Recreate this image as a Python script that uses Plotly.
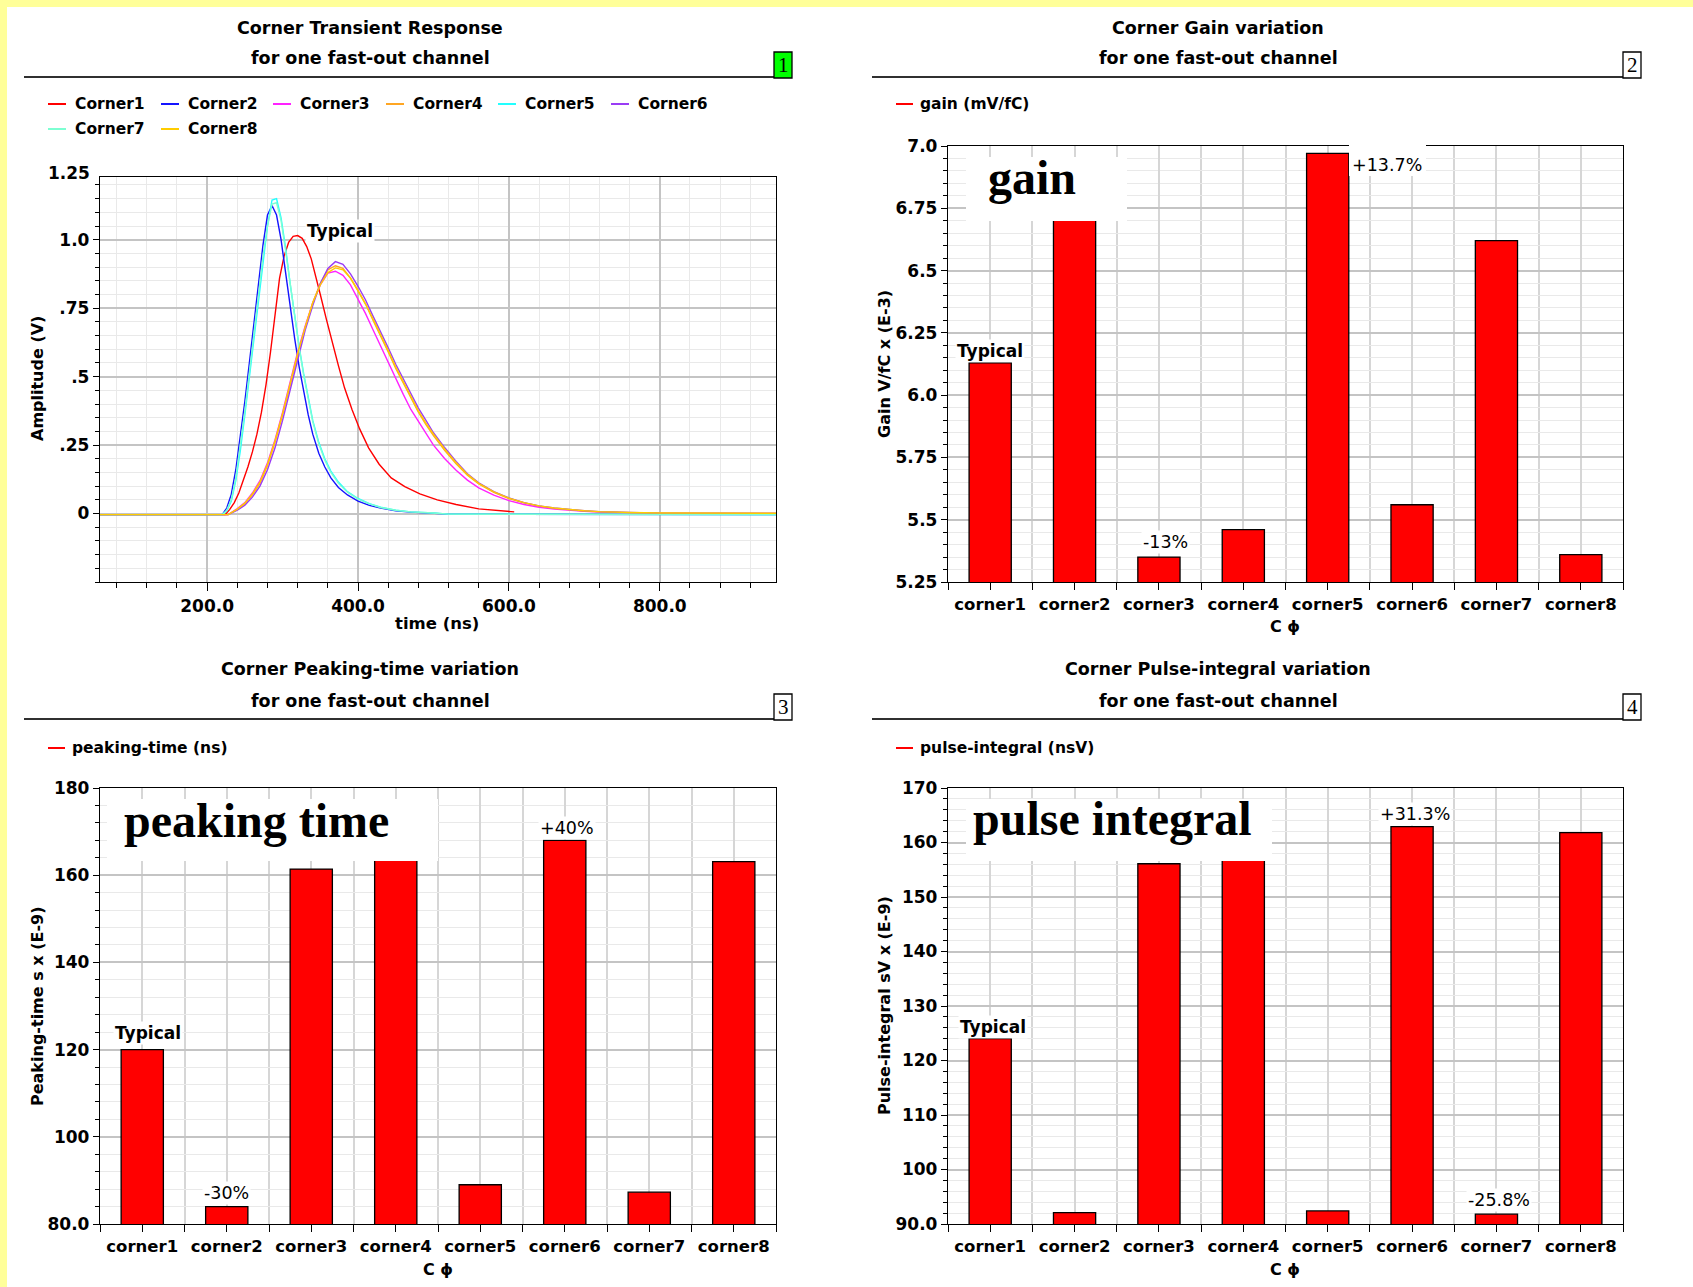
import plotly.graph_objects as go

W, H = 1693, 1287
SANS = "DejaVu Sans"
SERIF = "Liberation Serif"

# ---------------- transient response (time in ns, amplitude in V) ----------------
t_typ = [58, 224, 230, 236, 242, 248, 254, 260, 266, 272, 278, 284, 290, 296, 302, 308,
         314, 320, 326, 332, 338, 344, 350, 358, 366, 374, 382, 392, 402, 414, 428, 444,
         462, 482, 505, 530, 560, 590, 607]
corner1_v = [-0.004, -0.004, 0.015, 0.04, 0.075, 0.12, 0.17, 0.225, 0.29, 0.37, 0.47, 0.59,
             0.73, 0.86, 0.94, 0.99, 1.012, 1.015, 1.005, 0.975, 0.93, 0.87, 0.8, 0.71, 0.62,
             0.54, 0.46, 0.38, 0.31, 0.24, 0.18, 0.13, 0.098, 0.072, 0.05, 0.033, 0.017,
             0.009, 0.006]

t_fast = [58, 220, 226, 232, 238, 244, 250, 256, 262, 268, 274, 280, 286, 292, 298, 304,
          310, 316, 322, 328, 334, 340, 348, 356, 364, 374, 386, 400, 415, 430, 450, 470,
          500, 520, 954]
corner2_v = [-0.004, -0.004, 0.02, 0.07, 0.16, 0.28, 0.41, 0.55, 0.70, 0.85, 0.98, 1.09,
             1.125, 1.09, 1.00, 0.88, 0.75, 0.64, 0.535, 0.44, 0.36, 0.29, 0.22, 0.17, 0.13,
             0.095, 0.068, 0.045, 0.03, 0.02, 0.01, 0.005, 0.001, -0.002, -0.004]
corner5_v = [-0.004, -0.004, 0.01, 0.045, 0.12, 0.23, 0.36, 0.5, 0.645, 0.79, 0.93, 1.05,
             1.145, 1.15, 1.08, 0.97, 0.84, 0.72, 0.61, 0.51, 0.42, 0.34, 0.26, 0.2, 0.155,
             0.115, 0.08, 0.055, 0.036, 0.023, 0.012, 0.006, 0.002, -0.002, -0.004]
corner7_v = [-0.004, -0.004, 0.012, 0.05, 0.13, 0.245, 0.375, 0.515, 0.66, 0.8, 0.94, 1.05,
             1.13, 1.135, 1.07, 0.96, 0.835, 0.715, 0.605, 0.505, 0.415, 0.335, 0.255, 0.195,
             0.15, 0.11, 0.078, 0.053, 0.035, 0.022, 0.012, 0.006, 0.002, -0.002, -0.004]

t_slow = [58, 228, 240, 250, 260, 270, 280, 290, 300, 310, 320, 330, 340, 350, 360, 370,
          380, 390, 400, 410, 420, 430, 440, 450, 460, 470, 480, 490, 500, 515, 530, 545,
          560, 580, 600, 620, 640, 660, 680, 700, 720, 740, 760, 800, 954]
corner3_v = [-0.004, -0.004, 0.018, 0.04, 0.075, 0.12, 0.185, 0.27, 0.37, 0.48, 0.59, 0.685,
             0.77, 0.835, 0.878, 0.885, 0.87, 0.835, 0.785, 0.73, 0.67, 0.61, 0.55, 0.49,
             0.435, 0.38, 0.335, 0.29, 0.25, 0.2, 0.158, 0.122, 0.094, 0.067, 0.047, 0.033,
             0.023, 0.016, 0.011, 0.008, 0.005, 0.003, 0.002, 0.001, 0.0]
corner4_v = [-0.004, -0.004, 0.015, 0.035, 0.068, 0.11, 0.175, 0.26, 0.36, 0.47, 0.58, 0.68,
             0.77, 0.84, 0.89, 0.905, 0.895, 0.86, 0.815, 0.765, 0.705, 0.65, 0.59, 0.53,
             0.475, 0.42, 0.37, 0.325, 0.285, 0.23, 0.182, 0.14, 0.108, 0.077, 0.055, 0.039,
             0.027, 0.019, 0.013, 0.009, 0.006, 0.004, 0.003, 0.001, 0.0]
corner6_v = [-0.004, -0.004, 0.012, 0.03, 0.06, 0.10, 0.16, 0.24, 0.34, 0.45, 0.56, 0.67,
             0.76, 0.84, 0.895, 0.92, 0.91, 0.875, 0.83, 0.78, 0.72, 0.665, 0.605, 0.545,
             0.49, 0.435, 0.385, 0.34, 0.295, 0.24, 0.19, 0.145, 0.112, 0.08, 0.057, 0.04,
             0.028, 0.02, 0.014, 0.01, 0.007, 0.005, 0.003, 0.001, 0.0]
corner8_v = [-0.004, -0.004, 0.016, 0.038, 0.072, 0.115, 0.18, 0.265, 0.365, 0.475, 0.585,
             0.68, 0.77, 0.835, 0.88, 0.897, 0.89, 0.86, 0.815, 0.765, 0.71, 0.655, 0.595,
             0.535, 0.48, 0.425, 0.375, 0.33, 0.29, 0.235, 0.186, 0.143, 0.11, 0.079, 0.056,
             0.04, 0.028, 0.02, 0.014, 0.01, 0.007, 0.005, 0.004, 0.002, 0.001]

curve_names = ["Corner1", "Corner2", "Corner3", "Corner4", "Corner5", "Corner6", "Corner7", "Corner8"]
curve_colors = ["#ff0000", "#1414ff", "#ff22ff", "#ffa623", "#22ffff", "#9a3cf5", "#7dffd2", "#ffcc00"]
curve_t = [t_typ, t_fast, t_slow, t_slow, t_fast, t_slow, t_fast, t_slow]
curve_v = [corner1_v, corner2_v, corner3_v, corner4_v, corner5_v, corner6_v, corner7_v, corner8_v]

time_ticks = [200, 400, 600, 800]
time_ticklabels = ["200.0", "400.0", "600.0", "800.0"]
amp_ticks = [0, 0.25, 0.5, 0.75, 1.0]
amp_ticklabels = ["0", ".25", ".5", ".75", "1.0"]

# ---------------- per-corner summary values ----------------
corners = ["corner1", "corner2", "corner3", "corner4", "corner5", "corner6", "corner7", "corner8"]
gain = [6.13, 6.85, 5.35, 5.46, 6.97, 5.56, 6.62, 5.36]            # mV/fC
peaking = [120.0, 84.0, 161.4, 165.0, 89.0, 168.0, 87.3, 163.1]     # ns
pulse_integral = [124.0, 92.1, 156.1, 158.0, 92.4, 162.9, 91.8, 161.8]  # ns*V

gain_ticks = [5.25, 5.5, 5.75, 6.0, 6.25, 6.5, 6.75, 7.0]
gain_ticklabels = ["5.25", "5.5", "5.75", "6.0", "6.25", "6.5", "6.75", "7.0"]
peak_ticks = [80, 100, 120, 140, 160, 180]
peak_ticklabels = ["80.0", "100", "120", "140", "160", "180"]
pulse_ticks = [90, 100, 110, 120, 130, 140, 150, 160, 170]
pulse_ticklabels = ["90.0", "100", "110", "120", "130", "140", "150", "160", "170"]


def px(x):
    return x / W


def py(y):
    return 1 - y / H


MAJOR = "#c4c4c4"
MINOR = "#e9e9e9"
VGRID = "#d6d6d6"
TICKFONT = dict(family=SANS, size=17, color="black", weight="bold")
XCATFONT = dict(family=SANS, size=16.5, color="black", weight="bold")

fig = go.Figure()

for name, color, t, v in zip(curve_names, curve_colors, curve_t, curve_v):
    fig.add_trace(go.Scatter(x=t, y=v, mode="lines", name=name,
                             line=dict(color=color, width=1.4),
                             xaxis="x", yaxis="y", showlegend=False, hoverinfo="skip"))

pos = list(range(1, len(corners) + 1))
for vals, xa, ya in [(gain, "x2", "y2"), (peaking, "x3", "y3"), (pulse_integral, "x4", "y4")]:
    fig.add_trace(go.Bar(x=pos, y=vals, width=0.5,
                         marker=dict(color="#ff0000", line=dict(color="black", width=1.3)),
                         xaxis=xa, yaxis=ya, showlegend=False, hoverinfo="skip"))


def frame(**kw):
    base = dict(showline=True, mirror=True, linecolor="black", linewidth=1.3,
                ticks="outside", tickcolor="black", tickwidth=1.2, zeroline=False,
                showgrid=True, fixedrange=True, automargin=False)
    base.update(kw)
    return base


def bar_x(dom, anchor):
    return frame(domain=dom, anchor=anchor, range=[0.5, len(corners) + 0.5],
                 tickmode="array", tickvals=pos, ticktext=corners, ticklen=7,
                 gridcolor=VGRID, gridwidth=1.5, tickfont=XCATFONT,
                 minor=dict(tickmode="linear", tick0=0.5, dtick=1, ticks="outside", ticklen=7,
                            tickcolor="black", showgrid=True, gridcolor=VGRID, gridwidth=1.5))


def val_y(dom, anchor, rng, tv, tt, mdt):
    return frame(domain=dom, anchor=anchor, range=rng, tickmode="array", tickvals=tv,
                 ticktext=tt, ticklen=6, gridcolor=MAJOR, gridwidth=1.5, tickfont=TICKFONT,
                 minor=dict(tickmode="linear", tick0=rng[0], dtick=mdt, ticks="outside",
                            ticklen=4, tickcolor="black", showgrid=True, gridcolor=MINOR,
                            gridwidth=1))


fig.update_layout(
    width=W, height=H, autosize=False,
    margin=dict(l=0, r=0, t=0, b=0, pad=0, autoexpand=False),
    showlegend=False,
    paper_bgcolor="white", plot_bgcolor="white",
    xaxis=frame(domain=[px(100), px(776)], anchor="y", range=[58, 954],
                tickmode="array", tickvals=time_ticks, ticktext=time_ticklabels, ticklen=8,
                gridcolor=MAJOR, gridwidth=1.5, tickfont=TICKFONT,
                minor=dict(tickmode="linear", tick0=0, dtick=40, ticks="outside", ticklen=5,
                           tickcolor="black", showgrid=True, gridcolor=MINOR, gridwidth=1)),
    yaxis=val_y([py(582), py(177)], "x", [-0.25, 1.229], amp_ticks, amp_ticklabels, 0.05),
    xaxis2=bar_x([px(948), px(1623)], "y2"),
    yaxis2=val_y([py(582), py(146)], "x2", [5.25, 7.0], gain_ticks, gain_ticklabels, 0.05),
    xaxis3=bar_x([px(100), px(776)], "y3"),
    yaxis3=val_y([py(1224), py(788)], "x3", [80, 180], peak_ticks, peak_ticklabels, 4),
    xaxis4=bar_x([px(948), px(1623)], "y4"),
    yaxis4=val_y([py(1224), py(788)], "x4", [90, 170], pulse_ticks, pulse_ticklabels, 2),
)

shapes = []
ann = []


def text(x, y, s, size=16, bold=True, family=SANS, xa="center", ya="middle", angle=0, color="black", bg=None):
    d = dict(x=px(x), y=py(y), xref="paper", yref="paper", text=s, showarrow=False,
             xanchor=xa, yanchor=ya, textangle=angle,
             font=dict(family=family, size=size, color=color, weight="bold" if bold else "normal"))
    if bg:
        d["bgcolor"] = bg
    ann.append(d)


def rect(x0, y0, x1, y1, fill, line=None, layer="above"):
    shapes.append(dict(type="rect", xref="paper", yref="paper", x0=px(x0), x1=px(x1),
                       y0=py(y1), y1=py(y0), fillcolor=fill, layer=layer,
                       line=dict(width=1.3 if line else 0, color=line or fill)))


def hline(x0, x1, y, color, width):
    shapes.append(dict(type="line", xref="paper", yref="paper", x0=px(x0), x1=px(x1),
                       y0=py(y), y1=py(y), line=dict(color=color, width=width), layer="above"))


# yellow page border
rect(0, 0, W, 7, "#ffff99", layer="below")
rect(0, 0, 7, H, "#ffff99", layer="below")

# panel headers: two-line title, rule and numbered tag
headers = [
    (370, 28, 58, 77, 24, 774, "Corner Transient Response", "1", "#00ff00"),
    (1218, 28, 58, 77, 872, 1623, "Corner Gain variation", "2", "white"),
    (370, 669, 701, 719, 24, 774, "Corner Peaking-time variation", "3", "white"),
    (1218, 669, 701, 719, 872, 1623, "Corner Pulse-integral variation", "4", "white"),
]
for cx, y1, y2, ry, rx0, rx1, title, tag, tagfill in headers:
    text(cx, y1, title, size=17.5)
    text(cx, y2, "for one fast-out channel", size=17.5)
    hline(rx0, rx1, ry, "#303030", 2)
    rect(rx1, ry - 25, rx1 + 18, ry + 1, tagfill, line="black")
    text(rx1 + 9, ry - 12, tag, size=21, bold=False, family=SERIF)

# panel 1 legend
leg_x = [48, 161, 273, 386, 498, 611, 48, 161]
leg_y = [104, 104, 104, 104, 104, 104, 129, 129]
for name, color, lx, ly in zip(curve_names, curve_colors, leg_x, leg_y):
    hline(lx, lx + 18, ly, color, 2)
    text(lx + 25, ly, name, size=15.5, xa="left")

# bar-chart legends
for lx, ly, label in [(896, 104, "gain (mV/fC)"), (48, 748, "peaking-time (ns)"),
                      (896, 748, "pulse-integral (nsV)")]:
    hline(lx, lx + 17, ly, "#ff0000", 2)
    text(lx + 22, ly, label, size=15.5, xa="left")

# axis titles
text(37, 379, "Amplitude (V)", size=16, angle=-90)
text(437, 623, "time (ns)", size=16.5)
text(92, 173, "1.25", size=17, xa="right")
text(884, 364, "Gain V/fC x (E-3)", size=16, angle=-90)
text(1285, 626, "C ϕ", size=16)
text(37, 1006, "Peaking-time s x (E-9)", size=16, angle=-90)
text(438, 1269, "C ϕ", size=16)
text(884, 1006, "Pulse-integral sV x (E-9)", size=16, angle=-90)
text(1285, 1269, "C ϕ", size=16)

# white label panels with large captions
rect(966, 157, 1127, 221, "white")
text(986, 177, "gain", size=48, family=SERIF, xa="left")
rect(107, 799, 438, 861, "white")
text(122, 820, "peaking time", size=48, family=SERIF, xa="left")
rect(966, 799, 1272, 861, "white")
text(971, 818, "pulse integral", size=48, family=SERIF, xa="left")
rect(1349, 137, 1426, 176, "white")

# data-anchored notes
TYP = dict(family=SANS, size=17, color="black", weight="bold")
PCT = dict(family=SANS, size=17.5, color="black", weight="normal")
ann.append(dict(x=330, y=1.033, xref="x", yref="y", text="Typical", showarrow=False,
                xanchor="left", yanchor="middle", font=TYP, bgcolor="white"))
ann.append(dict(x=pos[0], y=gain[0], xref="x2", yref="y2", text="Typical", showarrow=False,
                xanchor="center", yanchor="bottom", font=TYP, bgcolor="white"))
ann.append(dict(x=pos[4], y=gain[4], xref="x2", yref="y2", text="+13.7%", showarrow=False,
                xanchor="left", yanchor="top", xshift=22, font=PCT))
ann.append(dict(x=pos[2], y=gain[2], xref="x2", yref="y2", text="-13%", showarrow=False,
                xanchor="center", yanchor="bottom", xshift=7, yshift=3, font=PCT, bgcolor="white"))
ann.append(dict(x=pos[0], y=peaking[0], xref="x3", yref="y3", text="Typical", showarrow=False,
                xanchor="center", yanchor="bottom", xshift=6, yshift=5, font=TYP, bgcolor="white"))
ann.append(dict(x=pos[1], y=peaking[1], xref="x3", yref="y3", text="-30%", showarrow=False,
                xanchor="center", yanchor="bottom", yshift=2, font=PCT, bgcolor="white"))
ann.append(dict(x=pos[5], y=peaking[5], xref="x3", yref="y3", text="+40%", showarrow=False,
                xanchor="center", yanchor="bottom", xshift=2, font=PCT, bgcolor="white"))
ann.append(dict(x=pos[0], y=pulse_integral[0], xref="x4", yref="y4", text="Typical", showarrow=False,
                xanchor="center", yanchor="bottom", xshift=3, font=TYP, bgcolor="white"))
ann.append(dict(x=pos[5], y=pulse_integral[5], xref="x4", yref="y4", text="+31.3%", showarrow=False,
                xanchor="center", yanchor="bottom", xshift=3, yshift=1, font=PCT, bgcolor="white"))
ann.append(dict(x=pos[6], y=pulse_integral[6], xref="x4", yref="y4", text="-25.8%", showarrow=False,
                xanchor="center", yanchor="bottom", xshift=3, yshift=2, font=PCT, bgcolor="white"))

fig.update_layout(shapes=shapes, annotations=ann)
fig.write_html("out.html", config=dict(displayModeBar=False))
